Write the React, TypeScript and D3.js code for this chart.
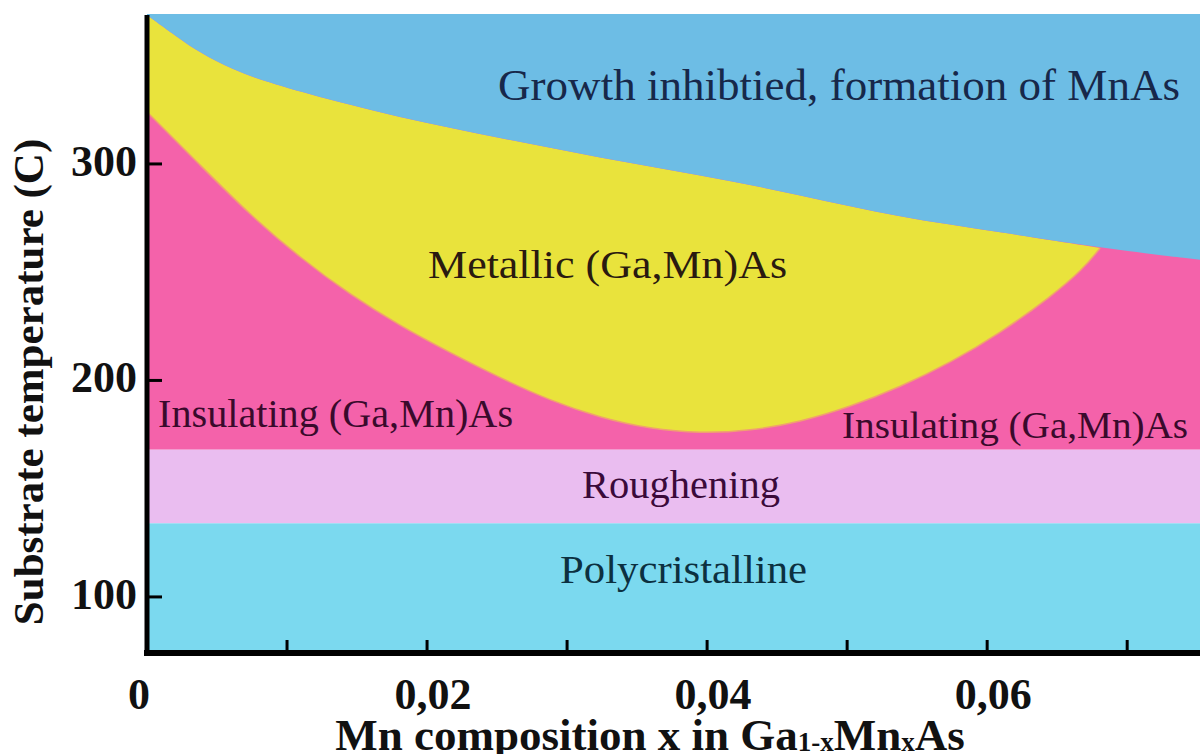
import React from "react";
import * as d3 from "d3";

// Mn composition x (fraction) vs substrate temperature (°C)
const upperBoundaryX = [0, 0.00214, 0.00379, 0.00614, 0.00857, 0.01093, 0.01807, 0.02521, 0.03236, 0.0395, 0.04664, 0.05379, 0.06093, 0.06807, 0.07521];
const upperBoundaryT = [368.8, 358.7, 351.3, 343.4, 337.9, 333.3, 321.2, 312.0, 302.8, 294.9, 285.7, 275.1, 268.6, 261.2, 255.7];

const metallicLowerX = [0, 0.00379, 0.00736, 0.01093, 0.0145, 0.01807, 0.02164, 0.02521, 0.02879, 0.03236, 0.03593, 0.0395, 0.04307, 0.04664, 0.05021, 0.05379, 0.05736, 0.06093, 0.0645, 0.06686, 0.06807];
const metallicLowerT = [324.0, 299.5, 276.4, 256.7, 239.6, 225.2, 212.8, 201.2, 190.7, 182.8, 177.6, 175.5, 176.7, 180.8, 187.8, 197.0, 208.1, 221.9, 238.4, 251.4, 261.2];

const roughTop = 168;
const polyTop = 134;

const xTicksMajor = [0, 0.02, 0.04, 0.06];
const xTickLabels = ["0", "0,02", "0,04", "0,06"];
const xTicksAll = [0.01, 0.02, 0.03, 0.04, 0.05, 0.06, 0.07];
const yTicks = [100, 200, 300];
const yTickLabels = ["100", "200", "300"];

const regionLabels = [
  { text: "Growth inhibtied, formation of MnAs", x: 0.02507, t: 329.6, len: 682, size: 45, color: "#17284a" },
  { text: "Metallic (Ga,Mn)As", x: 0.02007, t: 247.3, len: 359, size: 40, color: "#2a1a10" },
  { text: "Insulating (Ga,Mn)As", x: 0.00079, t: 178.5, len: 355, size: 39, color: "#3a0a2c" },
  { text: "Insulating (Ga,Mn)As", x: 0.04964, t: 173.4, len: 346, size: 38, color: "#3a0a2c" },
  { text: "Roughening", x: 0.03107, t: 145.7, len: 198, size: 39, color: "#3a0a3a" },
  { text: "Polycristalline", x: 0.0295, t: 106.5, len: 247, size: 41, color: "#0c3040" },
];

const SERIF = "'Liberation Serif', 'Times New Roman', Times, serif";

export default function App() {
  const W = 1200, H = 754;
  const x = d3.scaleLinear().domain([0, 0.0752]).range([147, 1200]);
  const y = d3.scaleLinear().domain([74.1, 368.8]).range([653, 15]);

  const upper = upperBoundaryX.map((v, i) => [v, upperBoundaryT[i]] as [number, number]);
  const lower = metallicLowerX.map((v, i) => [v, metallicLowerT[i]] as [number, number]);

  const line = d3.line<[number, number]>().x(d => x(d[0])).y(d => y(d[1])).curve(d3.curveBasis);

  const x0 = x.range()[0], x1 = x.range()[1];
  const yTop = y.range()[1], yBot = y.range()[0];

  // blue area: above the full upper boundary
  const blueArea = d3.area<[number, number]>()
    .x(d => x(d[0])).y0(yTop - 1).y1(d => y(d[1])).curve(d3.curveBasis)(upper) || "";

  const xMeet = metallicLowerX[metallicLowerX.length - 1];
  const upperPart = upper.filter(d => d[0] <= xMeet + 1e-9);
  const upperPath = line(upperPart) || "";
  const lowerRev = [...lower].reverse();
  const lowerPathRev = (line(lowerRev) || "").replace(/^M/, "L");
  const yellowPath = upperPath + lowerPathRev + "Z";
  const lowerEdge = line(lower) || "";

  return (
    <svg width={W} height={H} style={{ position: "absolute", left: 0, top: 0, background: "#fff" }}
      fontFamily={SERIF}>
      <rect x={0} y={0} width={W} height={H} fill="#ffffff" />
      {/* insulating (pink) base */}
      <rect x={x0} y={yTop} width={x1 - x0} height={y(roughTop) - yTop} fill="#f462aa" />
      <path d={yellowPath} fill="#e9e33c" />
      <path d={lowerEdge} fill="none" stroke="#f0a070" strokeWidth={1.5} />
      <path d={blueArea} fill="#6dbde5" />
      <rect x={x0} y={y(roughTop)} width={x1 - x0} height={y(polyTop) - y(roughTop)} fill="#eabdf0" />
      <rect x={x0} y={y(polyTop)} width={x1 - x0} height={yBot - y(polyTop)} fill="#7bd9ef" />

      {regionLabels.map((l, i) => (
        <text key={i} x={x(l.x)} y={y(l.t)} fontSize={l.size} fill={l.color} fontFamily={SERIF}
          textLength={l.len} lengthAdjust="spacingAndGlyphs">{l.text}</text>
      ))}

      {/* axes */}
      <line x1={x0} x2={x0} y1={yTop} y2={yBot + 3} stroke="#000" strokeWidth={5} />
      <line x1={x0 - 3} x2={x1} y1={yBot} y2={yBot} stroke="#000" strokeWidth={6} />
      {xTicksAll.map((v, i) => (
        <line key={i} x1={x(v)} x2={x(v)} y1={yBot} y2={yBot - 13} stroke="#000" strokeWidth={3} />
      ))}
      {yTicks.map((v, i) => (
        <line key={i} x1={x0} x2={x0 + 15} y1={y(v)} y2={y(v)} stroke="#000" strokeWidth={3} />
      ))}

      {xTicksMajor.map((v, i) => (
        <text key={i} x={x(v) + (v === 0 ? -8 : 6)} y={709} fontSize={44} fontWeight="bold"
          textAnchor="middle" fill="#111" fontFamily={SERIF}>{xTickLabels[i]}</text>
      ))}
      {yTicks.map((v, i) => (
        <text key={i} x={137} y={y(v) + 12} fontSize={44} fontWeight="bold"
          textAnchor="end" fill="#111" fontFamily={SERIF}>{yTickLabels[i]}</text>
      ))}

      <text transform={`translate(43, 382) rotate(-90)`} textAnchor="middle" fontSize={43}
        fontWeight="bold" fill="#111" fontFamily={SERIF}>Substrate temperature (C)</text>

      <text x={650} y={750} textAnchor="middle" fontSize={45} fontWeight="bold" fill="#111" fontFamily={SERIF}>
        Mn composition x in Ga<tspan fontSize={27} dy={1}>1-x</tspan><tspan dy={-1}>Mn</tspan><tspan fontSize={27} dy={1}>x</tspan><tspan dy={-1}>As</tspan>
      </text>
    </svg>
  );
}
